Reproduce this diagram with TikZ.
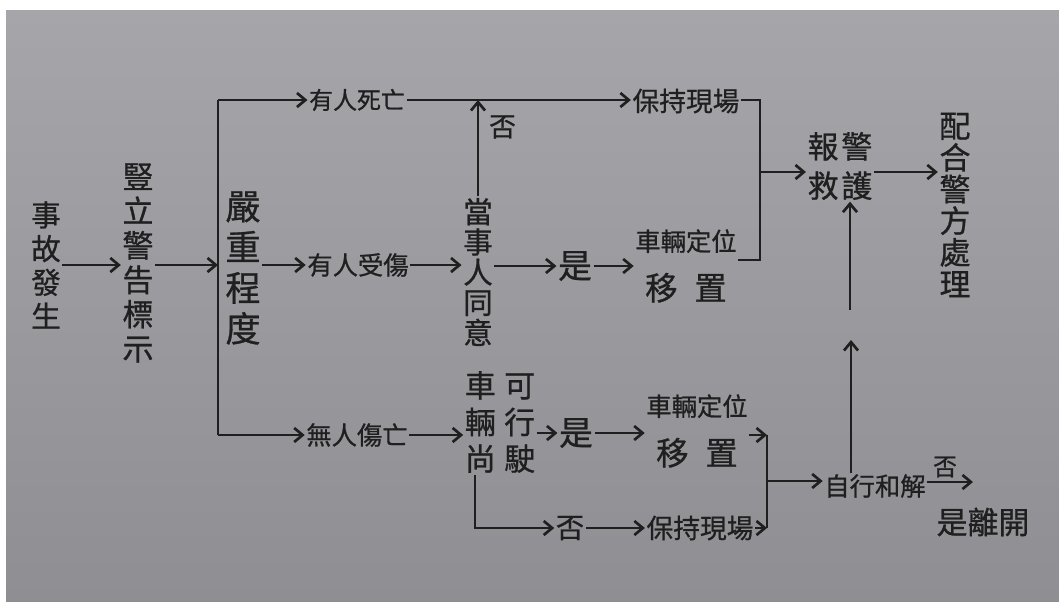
\documentclass[tikz,border=0pt]{standalone}
\usepackage{fontspec}
\usepackage{tikz}
\usetikzlibrary{arrows.meta}

\newfontfamily\zhfont[FakeBold=0.8]{Noto Sans CJK TC}
\definecolor{ink}{HTML}{1F1F1F}
\definecolor{paperTop}{HTML}{A6A5AA}
\definecolor{paperMid}{HTML}{C8C8CA}
\definecolor{paperBot}{HTML}{8F8E93}

\begin{document}
\begin{tikzpicture}[x=0.025cm, y=-0.025cm]

	\tikzstyle{word} = [inner sep=1pt, text=ink, align=center, font=\zhfont\fontsize{18}{22}\selectfont]
	\tikzstyle{column} = [word, font=\zhfont\fontsize{21}{24}\selectfont]
	\tikzstyle{flow} = [-{Straight Barb[length=6pt,width=10pt]}, line width=1.9pt, draw=ink]
	\tikzstyle{bare} = [line width=1.9pt, draw=ink]

	\useasboundingbox (0,0) rectangle (1059,601);
	\fill[white] (0,0) rectangle (1059,601);
	\shade[top color=paperTop, middle color=paperMid, bottom color=paperBot] (6,10) rectangle (1059,601);

%------------------------------------------------------------
	\node[column] (crash) at (46,265) {事\\故\\發\\生};
	\node[column, font=\zhfont\fontsize{22}{24.5}\selectfont] (sign) at (138,263) {豎\\立\\警\\告\\標\\示};

	\coordinate (fork_top) at (218,100);
	\coordinate (fork_mid) at (218,265);
	\coordinate (fork_bot) at (218,435);
	\node[column, font=\zhfont\fontsize{25}{29}\selectfont] (level) at (243,268) {嚴\\重\\程\\度};

	\draw[flow] (crash.east) -- (crash.east -| sign.west);
	\draw[flow] (sign.east |- fork_mid) -- (fork_mid);
	\draw[bare] (fork_top) -- (fork_bot);

%------------------------------------------------------------
	\node[word, font=\zhfont\fontsize{17}{20}\selectfont] (death) at (357,100) {有人死亡};
	\node[word] (hurt) at (358,265) {有人受傷};
	\node[word] (none) at (357,435) {無人傷亡};

	\draw[flow] (fork_top) -- (death.west);
	\draw[flow] (level.east |- hurt) -- (hurt);
	\draw[flow] (fork_bot) -- (none.west |- fork_bot);

%------------------------------------------------------------
	\node[column, font=\zhfont\fontsize{21}{21.5}\selectfont] (agree) at (478,272) {當\\事\\人\\同\\意};
	\node[word, font=\zhfont\fontsize{19}{22}\selectfont] (keep1) at (686,101) {保持現場};
	\node[word, font=\zhfont\fontsize{24}{26}\selectfont] (yes1) at (575,266) {是};
	\node[word] (move1) at (686,266) {車輛定位\\[13pt]{\fontsize{23}{26}\selectfont 移\hspace{12pt}置}};

	\draw[flow] (hurt.east) -- (hurt.east -| agree.west);
	\draw[flow] (agree.north) -- node[word, pos=0.72, right=6pt, font=\zhfont\fontsize{19}{22}\selectfont] (no1) {否} (agree.north |- death);
	\draw[flow] (death.east) -- (keep1.west |- death.east);
	\draw[flow] (agree.east |- yes1) -- (yes1);
	\draw[flow] (yes1) -- (yes1 -| move1.west);

%------------------------------------------------------------
	\coordinate (join1_top) at (760,100);
	\coordinate (join1_mid) at (760,172);
	\coordinate (join1_bot) at (760,260);
	\node[word, font=\zhfont\fontsize{22}{28}\selectfont] (alarm) at (840,166) {報\hspace{2pt}警\\救\hspace{2pt}護};
	\node[column, font=\zhfont\fontsize{22}{22.5}\selectfont] (police) at (955,205) {配\\合\\警\\方\\處\\理};

	\draw[bare] (keep1.east |- join1_top) -- (join1_top) -- (join1_bot) -- (join1_bot -| move1.east);
	\draw[flow] (join1_mid) -- (join1_mid -| alarm.west);
	\draw[flow] (alarm.east |- join1_mid) -- (join1_mid -| police.west);

%------------------------------------------------------------
	\node[word, font=\zhfont\fontsize{22}{26}\selectfont] (drive) at (500,422) {車\hspace{6pt}可\\輛\hspace{6pt}行\\尚\hspace{6pt}駛};
	\node[word, font=\zhfont\fontsize{24}{26}\selectfont] (yes2) at (576,433) {是};
	\node[word, font=\zhfont\fontsize{20}{22}\selectfont] (no2) at (570,528) {否};
	\node[word] (move2) at (697,431) {車輛定位\\[13pt]{\fontsize{23}{26}\selectfont 移\hspace{12pt}置}};
	\node[word, font=\zhfont\fontsize{19}{22}\selectfont] (keep2) at (700,528) {保持現場};
	\coordinate (bend) at (475,528);

	\draw[flow] (none) -- (none -| drive.west);
	\draw[flow] (drive.east |- yes2) -- (yes2);
	\draw[flow] (yes2) -- (yes2 -| move2.west);
	\draw[flow] (bend |- drive.south) -- (bend) -- (no2);
	\draw[flow] (no2) -- (keep2);

%------------------------------------------------------------
	\coordinate (join2_top) at (767,435);
	\coordinate (join2_mid) at (767,481);
	\coordinate (join2_bot) at (767,528);
	\node[word] (settle) at (875,486) {自行和解};
	\coordinate (exit) at (973,482);
	\node[word, font=\zhfont\fontsize{17}{20}\selectfont] (no3) at (945,467) {否};
	\node[word, font=\zhfont\fontsize{22}{24}\selectfont] (leave) at (983,522) {是離開};
	\coordinate (gap_lo) at (851,340);
	\coordinate (gap_hi) at (850,310);

	\draw[flow] (move2.east |- join2_top) -- (join2_top);
	\draw[flow] (keep2.east) -- (keep2.east -| join2_bot);
	\draw[bare] (join2_top) -- (join2_bot);
	\draw[flow] (join2_mid) -- (join2_mid -| settle.west);
	\draw[flow] (settle.east |- exit) -- (exit);
	\draw[flow] (settle.north -| gap_lo) -- (gap_lo);
	\draw[flow] (gap_hi) -- (gap_hi |- alarm.south);

\end{tikzpicture}
\end{document}
